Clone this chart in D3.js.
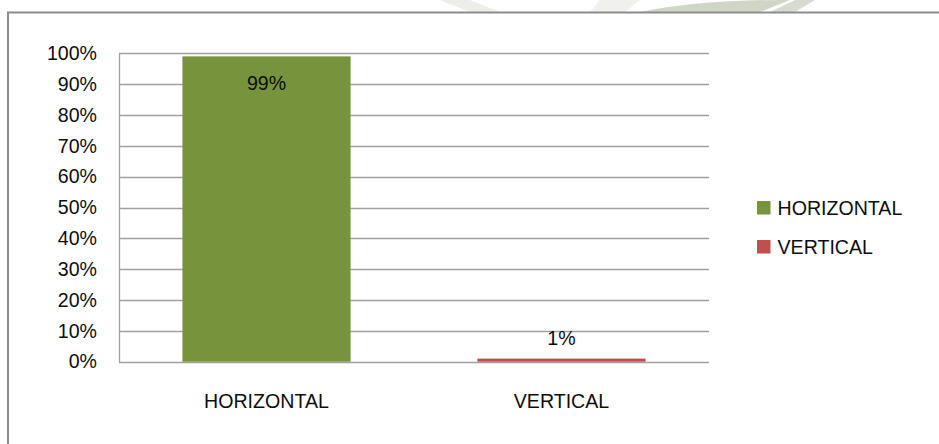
<!DOCTYPE html>
<html>
<head>
<meta charset="utf-8">
<script src="https://cdn.jsdelivr.net/npm/d3@7"></script>
<style>
  body { margin: 0; background: #fff; }
  svg { display: block; font-family: "Liberation Sans", Arial, sans-serif; }
</style>
</head>
<body>
<div id="chart"></div>
<script>
// Chart data
const categories = ["HORIZONTAL", "VERTICAL"];
const values = [0.99, 0.01];
const colors = ["#77933C", "#C0504D"];
const yTicks = [0, 0.1, 0.2, 0.3, 0.4, 0.5, 0.6, 0.7, 0.8, 0.9, 1.0];

const width = 939;
const height = 444;
const fontSize = 19.6;

const svg = d3.select("#chart")
    .append("svg")
    .attr("width", width)
    .attr("height", height);

// faint watermark peeking above the chart box
const wm = svg.append("g").attr("fill", "#dfe4da");
wm.append("path").attr("d", "M440,0 L470,0 L500,12 L470,12 Z").attr("opacity", 0.6);
wm.append("path").attr("d", "M600,0 L640,0 L625,12 L590,12 Z").attr("opacity", 0.5);
wm.append("path").attr("d", "M640,12 Q700,0 780,0 L790,0 Q770,8 760,12 Z").attr("fill", "#cfd6c6");
wm.append("path").attr("d", "M770,12 L795,0 L815,0 L795,12 Z").attr("fill", "#d6dccf");

// chart box
svg.append("rect")
    .attr("x", 8)
    .attr("y", 12.5)
    .attr("width", width + 20)
    .attr("height", height + 20)
    .attr("fill", "#fff")
    .attr("stroke", "#8c8c8c")
    .attr("stroke-width", 2);

const plot = { left: 119, right: 709, top: 53.3, bottom: 361.7 };

const x = d3.scaleBand()
    .domain(categories)
    .range([plot.left, plot.right])
    .paddingInner(0.43)
    .paddingOuter(0.215);

const y = d3.scaleLinear()
    .domain([0, 1])
    .range([plot.bottom, plot.top]);

// gridlines
svg.append("g")
    .selectAll("line")
    .data(yTicks)
    .join("line")
    .attr("x1", plot.left)
    .attr("x2", plot.right)
    .attr("y1", d => Math.round(y(d)) + 0.5)
    .attr("y2", d => Math.round(y(d)) + 0.5)
    .attr("stroke", "#a0a0a0")
    .attr("stroke-width", 1.3);

// vertical axis line
svg.append("line")
    .attr("x1", plot.left + 0.5)
    .attr("x2", plot.left + 0.5)
    .attr("y1", Math.round(plot.top) + 0.5)
    .attr("y2", Math.round(plot.bottom) + 0.5)
    .attr("stroke", "#a0a0a0")
    .attr("stroke-width", 1.3);

// y tick labels
const yAxis = d3.axisLeft(y)
    .tickValues(yTicks)
    .tickFormat(d3.format(".0%"))
    .tickSize(0)
    .tickPadding(22);

svg.append("g")
    .attr("transform", `translate(${plot.left},0)`)
    .call(yAxis)
    .call(g => g.select(".domain").remove())
    .selectAll("text")
    .attr("font-size", fontSize)
    .attr("font-family", "'Liberation Sans', Arial, sans-serif")
    .attr("fill", "#0d0d0d");

// bars
svg.append("g")
    .selectAll("rect")
    .data(values)
    .join("rect")
    .attr("x", (d, i) => x(categories[i]))
    .attr("width", x.bandwidth())
    .attr("y", d => y(d))
    .attr("height", d => y(0) - y(d))
    .attr("fill", (d, i) => colors[i]);

// value labels
svg.append("g")
    .selectAll("text")
    .data(values)
    .join("text")
    .attr("x", (d, i) => x(categories[i]) + x.bandwidth() / 2)
    .attr("y", d => (y(0) - y(d) > 40 ? y(d) + 34 : y(d) - 14))
    .attr("text-anchor", "middle")
    .attr("font-size", fontSize)
    .attr("fill", "#0d0d0d")
    .text(d => d3.format(".0%")(d));

// x category labels
svg.append("g")
    .selectAll("text")
    .data(categories)
    .join("text")
    .attr("x", d => x(d) + x.bandwidth() / 2)
    .attr("y", 408)
    .attr("text-anchor", "middle")
    .attr("font-size", fontSize)
    .attr("fill", "#0d0d0d")
    .text(d => d);

// legend
const legend = svg.append("g")
    .selectAll("g")
    .data(categories)
    .join("g")
    .attr("transform", (d, i) => `translate(757,${201 + i * 39})`);

legend.append("rect")
    .attr("width", 13.5)
    .attr("height", 13.5)
    .attr("fill", (d, i) => colors[i]);

legend.append("text")
    .attr("x", 20.5)
    .attr("y", 14)
    .attr("font-size", fontSize)
    .attr("fill", "#0d0d0d")
    .text(d => d);
</script>
</body>
</html>
